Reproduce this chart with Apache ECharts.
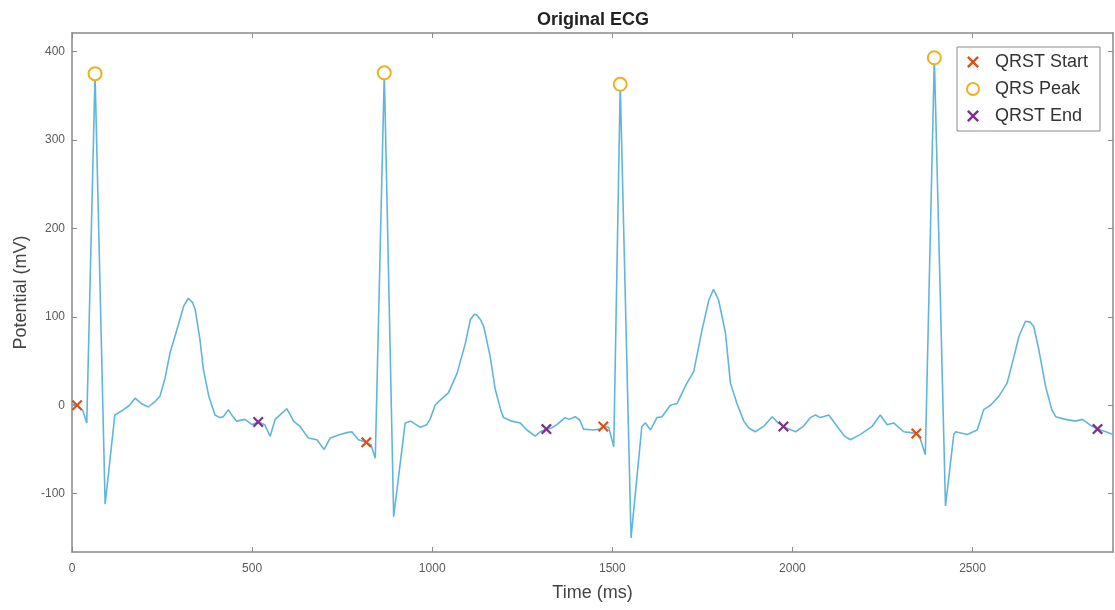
<!DOCTYPE html>
<html>
<head>
<meta charset="utf-8">
<script src="https://cdn.jsdelivr.net/npm/echarts@6/dist/echarts.min.js"></script>
<style>
html,body{margin:0;padding:0;background:#fff;}
#chart{width:1115px;height:610px;}
</style>
</head>
<body>
<div id="chart"></div>
<script>
// ECG trace (time in ms, potential in mV)
var timeMs = [0,14,30,41,64,92,119,143,160,175,192,212,230,244,258,272,291,310,323,335,342,355,365,380,397,410,420,434,445,457,480,500,517,535,550,564,580,596,605,615,633,656,680,700,717,744,763,777,795,817,830,842,
  867,893,925,940,967,985,994,1008,1020,1045,1069,1092,1106,1117,1124,1135,1143,1161,1175,1190,1198,1221,1244,1263,1286,1300,1317,1330,1346,1369,1380,1397,1410,1420,1448,1465,1475,1490,1504,
  1522,1552,1582,1592,1606,1624,1638,1661,1680,1707,1726,1749,1768,1781,1795,1814,1828,1846,1865,1880,1897,1920,1944,1960,1975,1990,2009,2030,2050,2064,2078,2101,2128,2145,2161,2189,2221,2244,2263,2281,2309,2330,2344,2355,2369,
  2394,2425,2448,2453,2485,2513,2531,2550,2573,2596,2615,2629,2647,2660,2670,2684,2703,2720,2731,2758,2786,2805,2825,2847,2870,2890];
var potentialMv = [1,0,-6,-20,375,-112,-11,-5,0,8,2,-2,4,10,30,59,85,112,121,116,108,75,40,10,-11,-14,-13,-5,-12,-18,-16,-22,-19,-22,-35,-16,-10,-4,-10,-18,-24,-37,-39,-50,-37,-33,-31,-30,-39,-42,-45,-60,
  376,-126,-20,-18,-25,-22,-16,0,5,14,36,70,97,103,102,96,89,55,18,-5,-14,-18,-20,-28,-35,-30,-27,-26,-22,-14,-16,-13,-17,-27,-28,-27,-24,-25,-47,
  363,-150,-24,-20,-28,-14,-13,0,2,25,38,85,119,131,119,82,25,2,-18,-26,-30,-24,-13,-20,-24,-27,-30,-24,-14,-11,-14,-11,-26,-35,-39,-33,-24,-11,-22,-20,-30,-31,-32,-38,-56,
  393,-114,-33,-30,-33,-28,-5,0,10,25,55,78,95,94,89,63,21,-5,-13,-16,-18,-16,-22,-27,-30,-33];

// detected points
var startT = [14, 817, 1475, 2344];
var startV = [0, -42, -24, -32];
var peakT  = [64, 867, 1522, 2394];
var peakV  = [375, 376, 363, 393];
var endT   = [517, 1317, 1975, 2847];
var endV   = [-19, -27, -24, -27];

// axis ticks
var xTicks = [0, 500, 1000, 1500, 2000, 2500];
var yTicks = [-100, 0, 100, 200, 300, 400];

function zip(a, b) { return a.map(function (v, i) { return [v, b[i]]; }); }
function plain(v) { return String(v); }

var FONT = '"Liberation Sans", Arial, Helvetica, sans-serif';
var crossPath = 'path://M0,1.4L1.4,0L5,3.6L8.6,0L10,1.4L6.4,5L10,8.6L8.6,10L5,6.4L1.4,10L0,8.6L3.6,5Z';
var axisGray = '#8a8a8a';

var chart = echarts.init(document.getElementById('chart'), null, {renderer: 'canvas'});
chart.setOption({
  animation: false,
  backgroundColor: '#ffffff',
  title: {
    text: 'Original ECG',
    left: 532, top: 6,
    textStyle: {fontFamily: FONT, fontSize: 18, fontWeight: 'bold', color: '#222'}
  },
  grid: {left: 72, right: 2, top: 33, bottom: 58, containLabel: false},
  legend: {
    orient: 'vertical',
    left: 957, top: 47,
    padding: [6, 12, 6, 9],
    itemWidth: 12, itemHeight: 12,
    itemGap: 9,
    borderColor: '#8a8a8a', borderWidth: 1,
    backgroundColor: '#ffffff',
    textStyle: {fontFamily: FONT, fontSize: 18, color: '#333', padding: [0, 0, 0, 11]},
    data: ['QRST Start', 'QRS Peak', 'QRST End']
  },
  xAxis: [{
    type: 'value', min: 0, max: 2890,
    name: 'Time (ms)', nameLocation: 'middle', nameGap: 32,
    nameTextStyle: {fontFamily: FONT, fontSize: 18, color: '#444'},
    axisLine: {show: true, onZero: false, lineStyle: {color: axisGray, width: 1.5}},
    axisTick: {show: true, inside: true, length: 5, customValues: xTicks, lineStyle: {color: axisGray}},
    axisLabel: {customValues: xTicks, formatter: plain, fontFamily: FONT, fontSize: 12, color: '#5a5a5a', margin: 11},
    splitLine: {show: false}
  }, {
    type: 'value', min: 0, max: 2890, position: 'top',
    axisLine: {show: true, onZero: false, lineStyle: {color: axisGray, width: 1.5}},
    axisTick: {show: true, inside: true, length: 5, customValues: xTicks, lineStyle: {color: axisGray}},
    axisLabel: {show: false},
    splitLine: {show: false}
  }],
  yAxis: [{
    type: 'value', min: -166, max: 421,
    name: 'Potential (mV)', nameLocation: 'middle', nameGap: 41,
    nameTextStyle: {fontFamily: FONT, fontSize: 18, color: '#444'},
    axisLine: {show: true, onZero: false, lineStyle: {color: axisGray, width: 1.5}},
    axisTick: {show: true, inside: true, length: 5, customValues: yTicks, lineStyle: {color: axisGray}},
    axisLabel: {customValues: yTicks, formatter: plain, fontFamily: FONT, fontSize: 12, color: '#5a5a5a', margin: 7},
    splitLine: {show: false}
  }, {
    type: 'value', min: -166, max: 421, position: 'right',
    axisLine: {show: true, onZero: false, lineStyle: {color: axisGray, width: 1.5}},
    axisTick: {show: true, inside: true, length: 5, customValues: yTicks, lineStyle: {color: axisGray}},
    axisLabel: {show: false},
    splitLine: {show: false}
  }],
  series: [{
    name: 'ECG', type: 'line',
    xAxisIndex: 0, yAxisIndex: 0,
    data: zip(timeMs, potentialMv),
    showSymbol: false, symbol: 'none',
    lineStyle: {color: '#62b5da', width: 1.6},
    z: 2
  }, {
    name: 'QRST Start', type: 'scatter',
    data: zip(startT, startV),
    symbol: crossPath, symbolSize: 11,
    itemStyle: {color: '#D95319', opacity: 1},
    z: 5
  }, {
    name: 'QRS Peak', type: 'scatter',
    data: zip(peakT, peakV),
    symbol: 'emptyCircle', symbolSize: 13,
    itemStyle: {color: '#EDB120', borderColor: '#EDB120', borderWidth: 2.2, opacity: 1},
    z: 5
  }, {
    name: 'QRST End', type: 'scatter',
    data: zip(endT, endV),
    symbol: crossPath, symbolSize: 11,
    itemStyle: {color: '#7E2F8E', opacity: 1},
    z: 5
  }]
});
</script>
</body>
</html>
